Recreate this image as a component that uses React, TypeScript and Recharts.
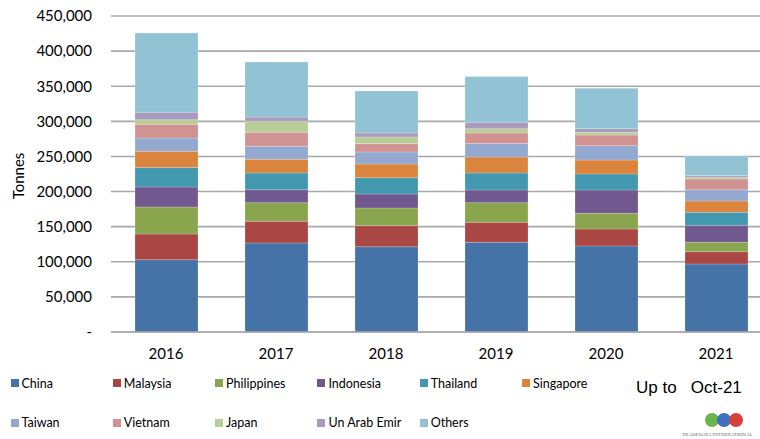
import { BarChart, Bar, XAxis, YAxis, CartesianGrid, Legend } from "recharts";

const years = ["2016", "2017", "2018", "2019", "2020", "2021"];

const china = [103000, 126800, 121500, 127700, 122500, 96900];
const malaysia = [36600, 30800, 30000, 28500, 24200, 17500];
const philippines = [38400, 26600, 25100, 28000, 22300, 13300];
const indonesia = [28500, 18500, 20000, 18100, 33300, 24200];
const thailand = [27600, 23800, 23200, 24200, 22800, 18600];
const singapore = [23200, 19400, 19500, 22800, 19900, 16100];
const taiwan = [19000, 18600, 17100, 19000, 20400, 16100];
const vietnam = [19500, 19900, 11900, 15200, 15200, 15200];
const japan = [6600, 15700, 9500, 6100, 3800, 2400];
const uae = [10500, 6100, 5700, 9000, 5200, 2400];
const others = [113000, 78400, 59800, 65100, 57500, 28000];

const yTicks = [0, 50000, 100000, 150000, 200000, 250000, 300000, 350000, 400000, 450000];

const series = [
  { key: "China", values: china, color: "#4572A7" },
  { key: "Malaysia", values: malaysia, color: "#AA4643" },
  { key: "Philippines", values: philippines, color: "#89A54E" },
  { key: "Indonesia", values: indonesia, color: "#71588F" },
  { key: "Thailand", values: thailand, color: "#4198AF" },
  { key: "Singapore", values: singapore, color: "#DB843D" },
  { key: "Taiwan", values: taiwan, color: "#93A9CF" },
  { key: "Vietnam", values: vietnam, color: "#D19392" },
  { key: "Japan", values: japan, color: "#B9CD96" },
  { key: "Un Arab Emir", values: uae, color: "#A99BBD" },
  { key: "Others", values: others, color: "#91C3D5" },
];

const data = years.map((year, i) => {
  const row: Record<string, string | number> = { year };
  series.forEach((s) => (row[s.key] = s.values[i]));
  return row;
});

const font = "Lato, 'Open Sans', sans-serif";

const formatTonnes = (v: number) => (v === 0 ? "-" : v.toLocaleString("en-US"));

function TonnesLabel() {
  return (
    <text
      x={18}
      y={176}
      transform="rotate(-90, 18, 176)"
      textAnchor="middle"
      dominantBaseline="central"
      fontFamily={font}
      fontSize={15}
      fill="#000"
    >
      Tonnes
    </text>
  );
}

function renderLegend() {
  return (
    <div style={{ position: "relative", width: 640, height: 60, fontFamily: font, fontSize: 12.5 }}>
      {series.map((s, i) => {
        const col = i % 6;
        const row = Math.floor(i / 6);
        return (
          <div
            key={s.key}
            style={{
              position: "absolute",
              left: 10.5 + col * 102.3,
              top: row * 39.5,
              height: 18,
              display: "flex",
              alignItems: "center",
              color: "#000",
              whiteSpace: "nowrap",
            }}
          >
            <span style={{ width: 8, height: 8, background: s.color, marginRight: 3, display: "inline-block" }} />
            {s.key}
          </div>
        );
      })}
    </div>
  );
}

export default function App() {
  return (
    <div style={{ position: "absolute", left: 0, top: 0, width: 760, height: 439, overflow: "hidden", background: "#fff" }}>
      <BarChart
        width={780}
        height={439}
        data={data}
        margin={{ top: 16, right: 9, left: 0, bottom: 107 - 40 }}
        barSize={63}
      >
        <CartesianGrid vertical={false} stroke="#a8a8a8" strokeWidth={1.6} />
        <XAxis
          dataKey="year"
          height={40}
          axisLine={{ stroke: "#a8a8a8", strokeWidth: 1.6 }}
          tickLine={false}
          tickSize={0}
          tickMargin={16}
          tick={{ fontFamily: font, fontSize: 15, fill: "#000" }}
        />
        <YAxis
          width={111}
          domain={[0, 450000]}
          ticks={yTicks}
          interval={0}
          axisLine={false}
          tickLine={false}
          tickSize={0}
          tickMargin={19}
          tickFormatter={formatTonnes}
          tick={{ fontFamily: font, fontSize: 15, fill: "#000" }}
          label={<TonnesLabel />}
        />
        <Legend
          layout="horizontal"
          verticalAlign="middle"
          align="center"
          content={renderLegend}
          wrapperStyle={{ position: "absolute", left: 0, top: 374, width: 640, height: 60 }}
        />
        {series.map((s) => (
          <Bar
            key={s.key}
            dataKey={s.key}
            stackId="a"
            fill={s.color}
            stroke="rgba(255,255,255,0.35)"
            strokeWidth={0.6}
            isAnimationActive={false}
          />
        ))}
      </BarChart>
      <div
        style={{
          position: "absolute",
          left: 636,
          top: 378,
          fontFamily: "'Liberation Sans', Arial, sans-serif",
          fontSize: 17,
          whiteSpace: "pre",
          color: "#000",
        }}
      >
        {"Up to   Oct-21"}
      </div>
      <svg style={{ position: "absolute", left: 680, top: 410 }} width={80} height={29}>
        <circle cx={32} cy={10} r={7} fill="#6cb54a" />
        <circle cx={44} cy={10} r={7} fill="#3f6fc2" />
        <circle cx={56} cy={10} r={7} fill="#d8413b" />
        <text x={2} y={26} fontSize={5} fill="#666" fontFamily="'Liberation Serif', serif">
          TRADEDATA INTERNATIONAL
        </text>
      </svg>
    </div>
  );
}
